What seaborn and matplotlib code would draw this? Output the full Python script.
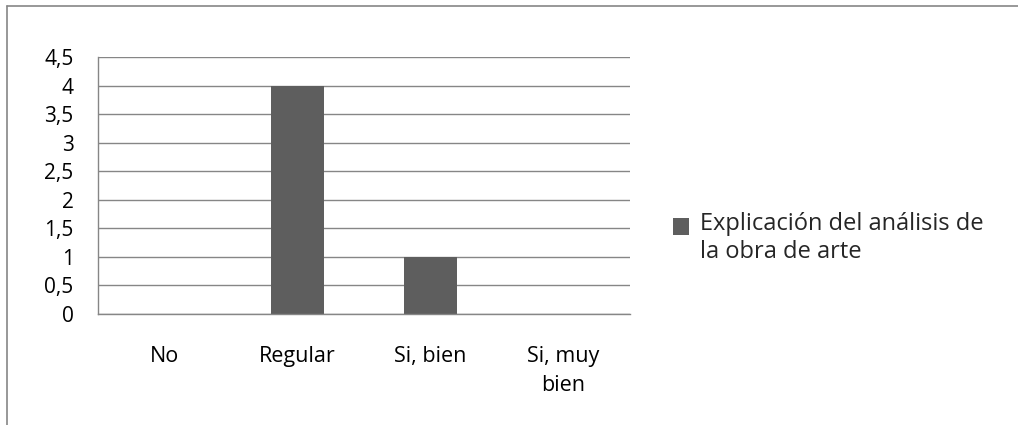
import matplotlib
matplotlib.use("Agg")
import matplotlib.pyplot as plt
import seaborn as sns
from matplotlib.lines import Line2D

# datos
categorias = ["No", "Regular", "Si, bien", "Si, muy\nbien"]
valores = [0, 4, 1, 0]
serie = "Explicación del análisis de\nla obra de arte"
yticks = [0, 0.5, 1, 1.5, 2, 2.5, 3, 3.5, 4, 4.5]
ytick_labels = ["0", "0,5", "1", "1,5", "2", "2,5", "3", "3,5", "4", "4,5"]

sns.set_theme(style="white")
plt.rcParams["font.family"] = ["Open Sans", "DejaVu Sans"]

gris_barra = "#5e5e5e"
gris_linea = "#868686"

fig = plt.figure(figsize=(10.18, 4.25), dpi=100)
ax = fig.add_axes([98 / 1018, 1 - 314 / 425, 532 / 1018, 257 / 425])

sns.barplot(x=categorias, y=valores, color=gris_barra, width=0.4,
            saturation=1, linewidth=0, label=serie, ax=ax)

ax.set_ylim(0, 4.5)
ax.set_xlim(-0.5, 3.5)
ax.set_yticks(yticks)
ax.set_yticklabels(ytick_labels, fontsize=15, color="black")
ax.set_xticks(range(len(categorias)))
ax.set_xticklabels(categorias, fontsize=15.5, color="black", linespacing=1.5)
ax.tick_params(axis="x", length=0, pad=23)
ax.set_xticks([-0.5, 0.5, 1.5, 2.5, 3.5], minor=True)
ax.tick_params(axis="x", which="minor", length=7, width=1, color=gris_linea, direction="out")
ax.tick_params(axis="y", length=7, width=1, color=gris_linea, direction="out", pad=10.5)
ax.yaxis.grid(True, color=gris_linea, linewidth=1)
ax.set_axisbelow(True)

for lado in ["top", "right"]:
    ax.spines[lado].set_visible(False)
for lado in ["left", "bottom"]:
    ax.spines[lado].set_color(gris_linea)
    ax.spines[lado].set_linewidth(1)
ax.set_xlabel("")
ax.set_ylabel("")

leg = ax.legend(loc="upper left", bbox_to_anchor=(673 / 1018, 1 - 212 / 425),
                bbox_transform=fig.transFigure, frameon=False, fontsize=17,
                handlelength=0.68, handleheight=0.68, handletextpad=0.45,
                borderpad=0, borderaxespad=0)
for t in leg.get_texts():
    t.set_linespacing(1.25)
# cuadrado de la leyenda alineado con la primera linea
h = leg.legend_handles[0]
h.set_y(h.get_y() + 9)

# borde exterior del grafico
fig.add_artist(Line2D([7 / 1018, 1], [1 - 6 / 425, 1 - 6 / 425], color=gris_linea, linewidth=1.2))
fig.add_artist(Line2D([7 / 1018, 7 / 1018], [0, 1 - 6 / 425], color=gris_linea, linewidth=1.2))

fig.savefig("out.png", dpi=100)
